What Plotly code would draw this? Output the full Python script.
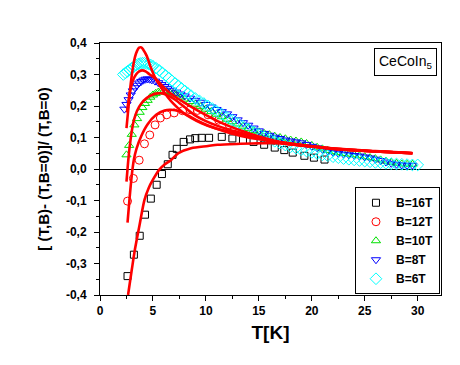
import plotly.graph_objects as go

# ---------------- data ----------------
T16 = [2.6, 3.2, 3.75, 4.25, 4.8, 5.35, 5.85, 6.4, 6.85, 7.25, 7.9, 8.5, 9.0, 9.6, 10.3,
       11.5, 12.5, 13.5, 14.5, 15.5, 16.5, 17.4, 18.2, 19.3, 20.2, 21.2]
y16 = [-0.34, -0.272, -0.212, -0.145, -0.094, -0.05, -0.016, 0.015, 0.045, 0.064, 0.086,
       0.094, 0.098, 0.099, 0.099, 0.102, 0.097, 0.092, 0.086, 0.077, 0.068, 0.06, 0.052,
       0.042, 0.036, 0.03]

T12 = [2.6, 3.15, 3.7, 4.2, 4.7, 5.2, 5.7, 6.3, 7.0, 7.8, 8.5, 9.2, 10.2, 11.2, 12.2]
y12 = [-0.102, -0.03, 0.028, 0.08, 0.108, 0.14, 0.162, 0.172, 0.178, 0.185, 0.188, 0.186,
       0.172, 0.155, 0.14]

T10 = [2.5, 2.75, 3.0, 3.25, 3.5, 3.75, 4.0, 4.25, 4.5, 4.75, 5.0, 5.25, 5.5, 5.75, 6.0,
       6.3, 6.6, 6.9, 7.2, 7.6, 8.0, 8.5, 9.0, 9.5, 10.0, 10.5, 11.0, 11.5, 12.0, 12.5,
       13.0, 13.5, 14.0, 14.5, 15.0, 15.5, 16.0, 16.5, 17.0, 17.5, 18.0, 18.5, 19.0, 19.5,
       20.0, 20.5, 21.0, 21.5, 22.0, 22.5, 23.0, 23.5, 24.0, 24.5, 25.0, 25.5, 26.0, 26.5,
       27.0, 27.5, 28.0, 28.5, 29.0, 29.5]
y10 = [0.045, 0.075, 0.11, 0.14, 0.16, 0.18, 0.195, 0.208, 0.218, 0.228, 0.235, 0.24,
       0.244, 0.246, 0.247, 0.246, 0.243, 0.24, 0.235, 0.228, 0.222, 0.214, 0.206, 0.198,
       0.19, 0.182, 0.174, 0.166, 0.158, 0.15, 0.143, 0.136, 0.129, 0.122, 0.118, 0.113,
       0.109, 0.104, 0.1, 0.096, 0.092, 0.089, 0.086, 0.081, 0.075, 0.069, 0.064, 0.059,
       0.055, 0.052, 0.049, 0.047, 0.045, 0.042, 0.039, 0.036, 0.033, 0.029, 0.025, 0.021,
       0.018, 0.016, 0.015, 0.015]

T8 = [2.3, 2.5, 2.7, 2.9, 3.1, 3.3, 3.5, 3.7, 3.9, 4.1, 4.3, 4.5, 4.7, 4.9, 5.2, 5.5, 5.8,
      6.1, 6.4, 6.8, 7.2, 7.6, 8.0, 8.5, 9.0, 9.5, 10.0, 10.5, 11.0, 11.5, 12.0, 12.5,
      13.0, 13.5, 14.0, 14.5, 15.0, 15.5, 16.0, 16.5, 17.0, 17.5, 18.0, 18.5, 19.0, 19.5,
      20.0, 20.5, 21.0, 21.5, 22.0, 22.5, 23.0, 23.5, 24.0, 24.5, 25.0, 25.5, 26.0, 26.5,
      27.0, 27.5, 28.0, 28.5, 29.0, 29.5]
y8 = [0.19, 0.205, 0.22, 0.235, 0.248, 0.258, 0.266, 0.273, 0.278, 0.282, 0.285, 0.286,
      0.285, 0.283, 0.279, 0.274, 0.268, 0.262, 0.256, 0.25, 0.244, 0.238, 0.232, 0.225,
      0.218, 0.212, 0.205, 0.197, 0.189, 0.182, 0.175, 0.166, 0.156, 0.147, 0.139, 0.13,
      0.121, 0.113, 0.107, 0.101, 0.097, 0.092, 0.089, 0.086, 0.083, 0.078, 0.072, 0.067,
      0.062, 0.057, 0.053, 0.05, 0.047, 0.045, 0.043, 0.041, 0.038, 0.035, 0.031, 0.027,
      0.022, 0.018, 0.015, 0.013, 0.012, 0.012]

T6 = [2.2, 2.4, 2.6, 2.8, 3.0, 3.2, 3.4, 3.6, 3.8, 4.0, 4.2, 4.4, 4.6, 4.8, 5.0, 5.3, 5.6,
      5.9, 6.2, 6.5, 6.8, 7.1, 7.4, 7.7, 8.0, 8.3, 8.6, 9.0, 9.4, 9.8, 10.2, 10.6, 11.0,
      11.5, 12.0, 12.5, 13.0, 13.5, 14.0, 14.5, 15.0, 15.5, 16.0, 16.5, 17.0, 17.5, 18.0,
      18.5, 19.0, 19.5, 20.0, 20.5, 21.0, 21.5, 22.0, 22.5, 23.0, 23.5, 24.0, 24.5, 25.0,
      25.5, 26.0, 26.5, 27.0, 27.5, 28.0, 28.5, 29.0, 29.5, 30.0]
y6 = [0.3, 0.305, 0.31, 0.315, 0.32, 0.325, 0.33, 0.333, 0.335, 0.336, 0.336, 0.335,
      0.333, 0.33, 0.326, 0.32, 0.313, 0.305, 0.297, 0.289, 0.28, 0.272, 0.264, 0.256,
      0.248, 0.24, 0.233, 0.224, 0.216, 0.208, 0.2, 0.192, 0.184, 0.174, 0.164, 0.155,
      0.145, 0.136, 0.127, 0.118, 0.11, 0.102, 0.095, 0.088, 0.082, 0.076, 0.071, 0.066,
      0.061, 0.057, 0.053, 0.049, 0.045, 0.042, 0.039, 0.036, 0.033, 0.031, 0.029, 0.027,
      0.025, 0.023, 0.021, 0.02, 0.018, 0.017, 0.016, 0.015, 0.014, 0.013, 0.013]

# fit curves (red)
fitT6 = [2.5, 2.7, 2.9, 3.1, 3.3, 3.5, 3.7, 3.9, 4.1, 4.4, 4.8, 5.2, 5.8, 6.4, 7.0, 7.8,
         8.6, 9.6, 10.8, 12.0, 13.3, 15.0, 16.5, 18.0, 19.6, 22.5, 26.0, 29.5]
fitY6 = [0.13, 0.2, 0.27, 0.32, 0.355, 0.375, 0.385, 0.386, 0.378, 0.36, 0.322, 0.29,
         0.257, 0.228, 0.205, 0.18, 0.162, 0.145, 0.13, 0.12, 0.11, 0.096, 0.087, 0.079,
         0.073, 0.063, 0.056, 0.05]
fitT8 = [2.55, 2.8, 3.1, 3.4, 3.7, 4.0, 4.3, 4.7, 5.2, 5.8, 6.4, 7.2, 8.0, 9.0, 10.2,
         11.1, 12.2, 13.3, 15.0, 16.5, 18.0, 19.6, 22.5, 26.0, 29.5]
fitY8 = [0.18, 0.24, 0.28, 0.3, 0.31, 0.313, 0.31, 0.3, 0.288, 0.267, 0.247, 0.227, 0.21,
         0.19, 0.168, 0.152, 0.136, 0.122, 0.103, 0.09, 0.081, 0.074, 0.064, 0.057, 0.051]
fitT10 = [2.5, 2.65, 2.8, 3.0, 3.2, 3.5, 3.9, 4.4, 4.9, 5.4, 5.9, 6.5, 7.1, 8.0, 8.9,
          10.0, 11.1, 12.2, 13.3, 15.0, 16.5, 18.0, 19.6, 22.5, 26.0, 29.5]
fitY10 = [-0.04, 0.02, 0.07, 0.12, 0.155, 0.185, 0.208, 0.225, 0.235, 0.24, 0.24, 0.232,
          0.22, 0.196, 0.172, 0.152, 0.137, 0.125, 0.115, 0.098, 0.087, 0.079, 0.072,
          0.062, 0.056, 0.05]
fitT12 = [2.6, 2.8, 3.0, 3.2, 3.45, 3.9, 4.5, 5.3, 6.1, 6.7, 7.5, 8.3, 9.3, 10.2, 11.1,
          12.7, 14.0, 15.5, 17.0, 19.6, 22.5, 26.0, 29.5]
fitY12 = [-0.17, -0.09, -0.02, 0.03, 0.065, 0.105, 0.142, 0.172, 0.186, 0.188, 0.183,
          0.17, 0.152, 0.138, 0.127, 0.11, 0.1, 0.092, 0.085, 0.074, 0.063, 0.056, 0.05]
fitT16 = [2.65, 3.0, 3.3, 3.75, 4.2, 4.6, 5.0, 5.6, 6.1, 6.7, 7.4, 8.6, 10.2, 11.1, 13.3,
          15.5, 16.5, 18.0, 19.6, 22.5, 26.0, 29.5]
fitY16 = [-0.4, -0.32, -0.255, -0.175, -0.098, -0.06, -0.034, -0.002, 0.014, 0.028, 0.05,
          0.066, 0.073, 0.077, 0.08, 0.082, 0.082, 0.078, 0.073, 0.063, 0.056, 0.05]

series_names = ["B=16T", "B=12T", "B=10T", "B=8T", "B=6T"]
xtick_vals = [0, 5, 10, 15, 20, 25, 30]
xtick_text = ["0", "5", "10", "15", "20", "25", "30"]
ytick_vals = [-0.4, -0.3, -0.2, -0.1, 0.0, 0.1, 0.2, 0.3, 0.4]
ytick_text = ["-0,4", "-0,3", "-0,2", "-0,1", "0,0", "0,1", "0,2", "0,3", "0,4"]

# ---------------- figure ----------------
FONT = "Arial, Liberation Sans, sans-serif"
fig = go.Figure()

marker_specs = [
    (T16, y16, "square-open", "#000000", 7),
    (T12, y12, "circle-open", "#ff0000", 8),
    (T10, y10, "triangle-up-open", "#00e000", 8),
    (T8, y8, "triangle-down-open", "#0000ff", 8),
    (T6, y6, "diamond-open", "#00ffff", 9),
]
for (tx, ty, sym, col, sz), name in zip(marker_specs, series_names):
    fig.add_trace(go.Scatter(
        x=tx, y=ty, mode="markers", name=name,
        marker=dict(symbol=sym, color=col, size=sz, line=dict(width=1, color=col)),
    ))

for fx, fy in [(fitT16, fitY16), (fitT12, fitY12), (fitT10, fitY10), (fitT8, fitY8),
               (fitT6, fitY6)]:
    fig.add_trace(go.Scatter(
        x=fx, y=fy, mode="lines", showlegend=False,
        line=dict(color="#ff0000", width=2.6, shape="spline", smoothing=0.8),
    ))

axis_common = dict(
    showline=True, linecolor="black", linewidth=1, mirror=True,
    showgrid=False, ticks="outside", ticklen=5, tickwidth=1, tickcolor="black",
    tickfont=dict(family=FONT, size=12, color="black", weight="bold"),
)

fig.update_xaxes(
    range=[0, 32.2], tickvals=xtick_vals, ticktext=xtick_text, zeroline=False,
    minor=dict(ticks="outside", ticklen=3, dtick=2.5, tick0=0, tickcolor="black"),
    title=dict(text="T[K]", font=dict(family=FONT, size=19, color="black", weight="bold"),
               standoff=8),
    **axis_common,
)
fig.update_yaxes(
    range=[-0.4, 0.4], tickvals=ytick_vals, ticktext=ytick_text,
    zeroline=True, zerolinecolor="black", zerolinewidth=1,
    minor=dict(ticks="outside", ticklen=3, dtick=0.05, tick0=0, tickcolor="black"),
    ticklabelstandoff=5,
    title=dict(text="[ (T,B)- (T,B=0)]/ (T,B=0)",
               font=dict(family=FONT, size=15, color="black", weight="bold"), standoff=12),
    **axis_common,
)

fig.add_annotation(
    x=0.988, y=0.98, xref="paper", yref="paper", xanchor="right", yanchor="top",
    text="CeCoIn<sub>5</sub>", showarrow=False,
    font=dict(family=FONT, size=14, color="black"),
    bordercolor="black", borderwidth=1, borderpad=4, bgcolor="white",
)

fig.update_layout(
    width=460, height=365,
    margin=dict(l=92, r=27, t=35, b=78),
    paper_bgcolor="white", plot_bgcolor="white",
    showlegend=True,
    legend=dict(
        x=0.997, y=0.003, xanchor="right", yanchor="bottom",
        bordercolor="black", borderwidth=1, bgcolor="white",
        font=dict(family=FONT, size=12, color="black", weight="bold"),
        itemwidth=30,
    ),
)

fig.write_html("out.html")
